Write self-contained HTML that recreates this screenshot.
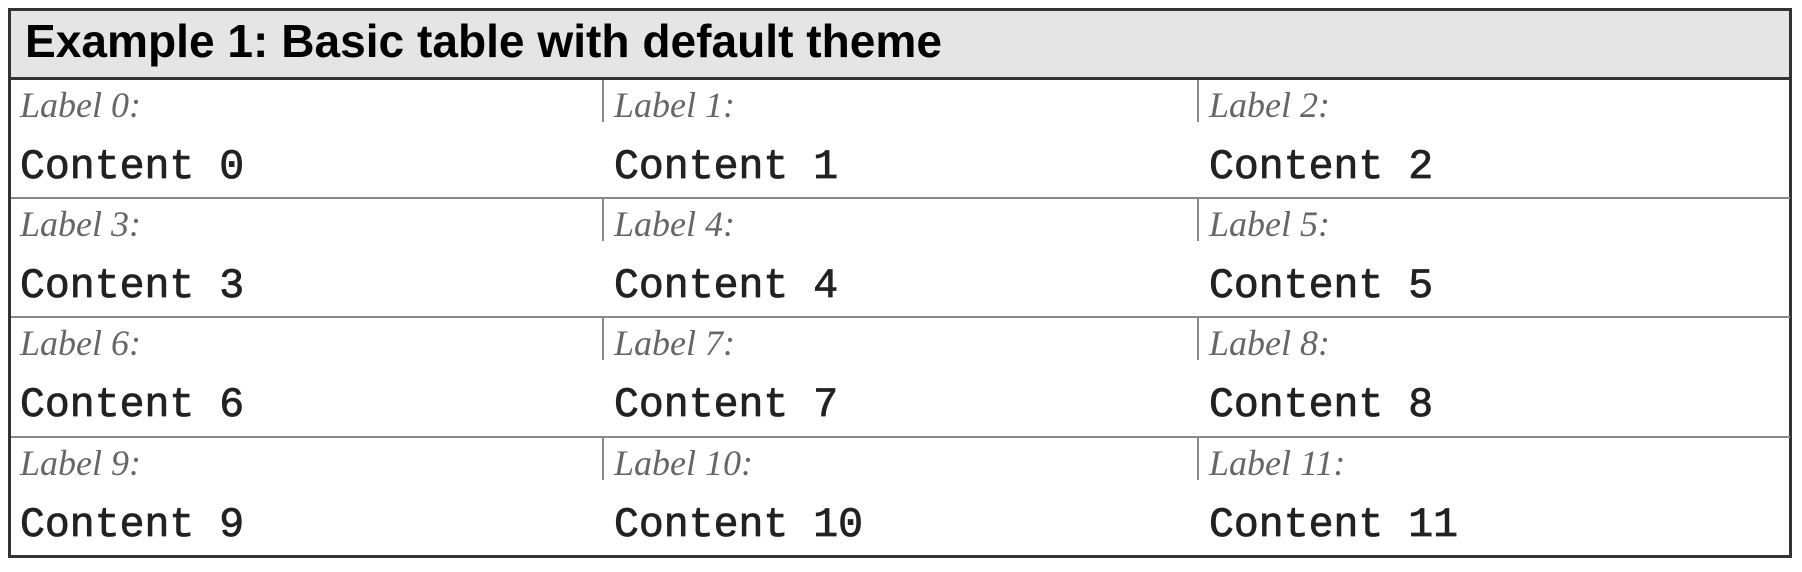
<!DOCTYPE html>
<html><head><meta charset="utf-8"><style>
html,body{margin:0;padding:0;background:#fff;width:1802px;height:572px;overflow:hidden}
</style></head><body>
<svg width="1802" height="572" xmlns="http://www.w3.org/2000/svg">
<rect x="9.5" y="9.5" width="1781" height="547" fill="#fff" stroke="#333" stroke-width="3"/>
<rect x="11" y="11" width="1778" height="66" fill="#e5e5e5"/>
<line x1="9" y1="78.5" x2="1792" y2="78.5" stroke="#333" stroke-width="3"/>
<text x="25" y="57" font-family="Liberation Sans, sans-serif" font-weight="bold" font-size="46" fill="#000" textLength="917" lengthAdjust="spacingAndGlyphs">Example 1: Basic table with default theme</text>
<g stroke="#888" stroke-width="2">
<line x1="11" y1="198" x2="1790" y2="198"/>
<line x1="11" y1="317" x2="1790" y2="317"/>
<line x1="11" y1="437" x2="1790" y2="437"/>
<line x1="603" y1="80" x2="603" y2="122"/><line x1="1198" y1="80" x2="1198" y2="122"/>
<line x1="603" y1="199" x2="603" y2="241"/><line x1="1198" y1="199" x2="1198" y2="241"/>
<line x1="603" y1="318" x2="603" y2="360"/><line x1="1198" y1="318" x2="1198" y2="360"/>
<line x1="603" y1="438" x2="603" y2="480"/><line x1="1198" y1="438" x2="1198" y2="480"/>
</g>
<g font-family="Liberation Serif, serif" font-style="italic" font-size="36" fill="#666">
<text x="20" y="117">Label 0:</text><text x="614" y="117">Label 1:</text><text x="1209" y="117">Label 2:</text>
<text x="20" y="236">Label 3:</text><text x="614" y="236">Label 4:</text><text x="1209" y="236">Label 5:</text>
<text x="20" y="355">Label 6:</text><text x="614" y="355">Label 7:</text><text x="1209" y="355">Label 8:</text>
<text x="20" y="475">Label 9:</text><text x="614" y="475">Label 10:</text><text x="1209" y="475">Label 11:</text>
</g>
<g font-family="Liberation Mono, monospace" font-size="41.5" fill="#222" stroke="#222" stroke-width="0.8">
<text x="20" y="178">Content 0</text><text x="614" y="178">Content 1</text><text x="1209" y="178">Content 2</text>
<text x="20" y="297">Content 3</text><text x="614" y="297">Content 4</text><text x="1209" y="297">Content 5</text>
<text x="20" y="416">Content 6</text><text x="614" y="416">Content 7</text><text x="1209" y="416">Content 8</text>
<text x="20" y="536">Content 9</text><text x="614" y="536">Content 10</text><text x="1209" y="536">Content 11</text>
</g>
</svg>
</body></html>
